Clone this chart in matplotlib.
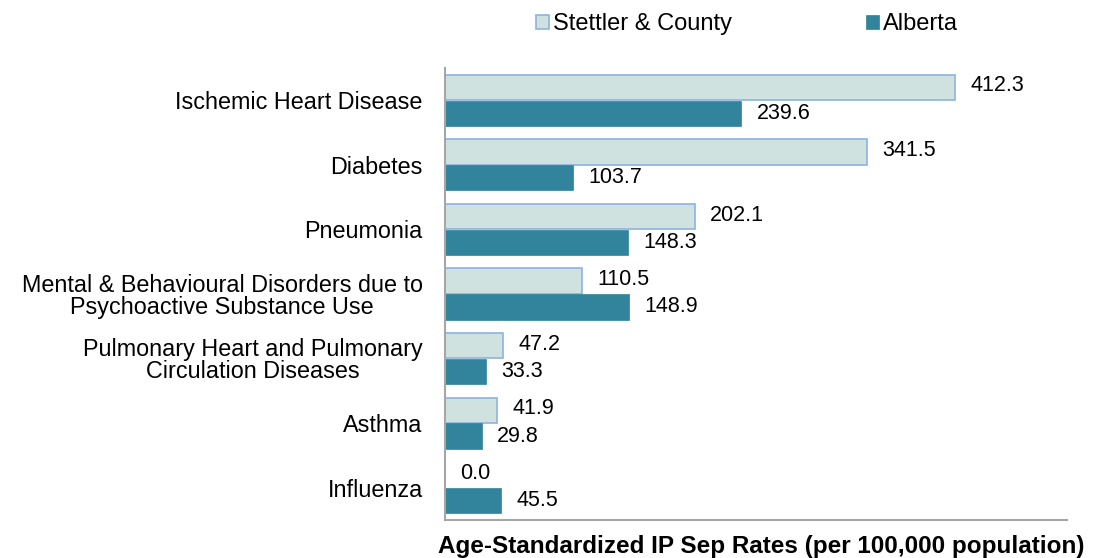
import matplotlib
matplotlib.use("Agg")
import matplotlib.pyplot as plt
import numpy as np

plt.rcParams['font.family'] = ['Liberation Sans', 'DejaVu Sans']

categories = [
    "Ischemic Heart Disease",
    "Diabetes",
    "Pneumonia",
    "Mental & Behavioural Disorders due to\nPsychoactive Substance Use",
    "Pulmonary Heart and Pulmonary\nCirculation Diseases",
    "Asthma",
    "Influenza",
]
stettler = [412.3, 341.5, 202.1, 110.5, 47.2, 41.9, 0.0]
alberta = [239.6, 103.7, 148.3, 148.9, 33.3, 29.8, 45.5]
series_names = ["Stettler & County", "Alberta"]
xlabel = "Age-Standardized IP Sep Rates (per 100,000 population)"

fig = plt.figure(figsize=(10.93, 5.58), dpi=100)
ax = fig.add_axes([445/1093, 1-520/558, (1067-445)/1093, 452/558])

n = len(categories)
y = np.arange(n)
h = 0.39
light_c = "#D0E2E0"
light_e = "#8DB3E2"
dark_c = "#31849B"

b1 = ax.barh(y - h/2 - 0.005, stettler, height=h, color=light_c, edgecolor=light_e, linewidth=1.2, label=series_names[0])
b2 = ax.barh(y + h/2 + 0.005, alberta, height=h, color=dark_c, edgecolor=dark_c, linewidth=0.5, label=series_names[1])

for rect, v in zip(b1, stettler):
    ax.annotate(f"{v:.1f}", (rect.get_width(), rect.get_y() + rect.get_height()/2),
                xytext=(11, 1), textcoords="offset points", ha="left", va="center", fontsize=15.5)
for rect, v in zip(b2, alberta):
    ax.annotate(f"{v:.1f}", (rect.get_width(), rect.get_y() + rect.get_height()/2),
                xytext=(11, 0), textcoords="offset points", ha="left", va="center", fontsize=15.5)

ax.set_xlim(0, 503)
ax.set_ylim(n - 0.5, -0.5)
ax.set_yticks(y)
ax.set_yticklabels(categories, fontsize=16.8, multialignment="center", linespacing=0.95)
ax.tick_params(axis="y", length=0, pad=16)
ax.set_xticks([])
for s in ["top", "right"]:
    ax.spines[s].set_visible(False)
ax.spines["left"].set_color("#A6A6A6")
ax.spines["left"].set_linewidth(1.5)
ax.spines["bottom"].set_color("#A6A6A6")
ax.spines["bottom"].set_linewidth(1.5)

fig.text(761/1093, 1-546/558, xlabel, ha="center", va="center", fontsize=17.5, fontweight="bold")

fig.legend(handles=[b1, b2], labels=series_names, loc="center", bbox_to_anchor=(747/1093, 1-24/558),
           ncol=2, frameon=False, fontsize=17, handlelength=0.55, handleheight=0.55,
           handletextpad=0.2, columnspacing=5.65)

fig.savefig("out.png", dpi=100)
